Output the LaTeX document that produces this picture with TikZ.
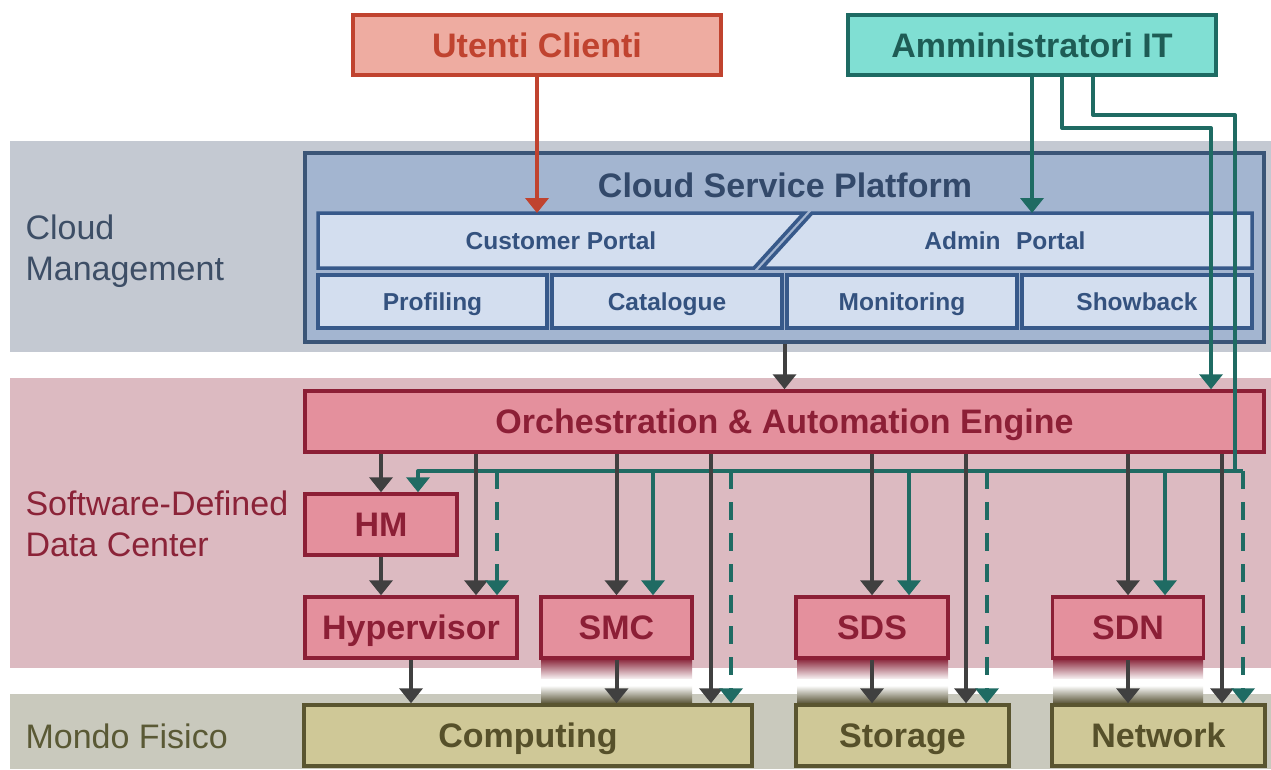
\documentclass[tikz,border=0pt]{standalone}
\usepackage{fontspec}
\setmainfont{Liberation Sans}
\usetikzlibrary{arrows.meta,calc}

\definecolor{cmBand}{HTML}{C4C9D2}
\definecolor{cmText}{HTML}{3D4E66}
\definecolor{sdBand}{HTML}{DCBAC1}
\definecolor{sdText}{HTML}{8B2338}
\definecolor{mfBand}{HTML}{C9C9BD}
\definecolor{mfText}{HTML}{5A5935}
\definecolor{uFill}{HTML}{EEACA1}
\definecolor{uLine}{HTML}{C0432F}
\definecolor{aFill}{HTML}{80DFD3}
\definecolor{aLine}{HTML}{1E6B63}
\definecolor{aText}{HTML}{1E5C55}
\definecolor{cspFill}{HTML}{A3B5D0}
\definecolor{cspLine}{HTML}{3B5577}
\definecolor{cspText}{HTML}{33496A}
\definecolor{pFill}{HTML}{D3DEEF}
\definecolor{pLine}{HTML}{37598A}
\definecolor{pText}{HTML}{34527F}
\definecolor{sdFill}{HTML}{E4909D}
\definecolor{sdLine}{HTML}{8C1F36}
\definecolor{hwFill}{HTML}{CFC897}
\definecolor{hwLine}{HTML}{5A5530}
\definecolor{hwText}{HTML}{56502A}
\definecolor{gArr}{HTML}{404040}
\definecolor{tArr}{HTML}{1F6B63}

\tikzset{
  bigfont/.style={font=\fontsize{34}{40}\selectfont\bfseries, text height=24pt, text depth=0pt},
  smallfont/.style={font=\fontsize{24.5}{28}\selectfont\bfseries, text height=17.5pt, text depth=0pt},
  bandlabel/.style={anchor=west, align=left, font=\fontsize{34}{41}\selectfont},
  boxbase/.style={draw, line width=3.5pt, inner sep=0pt},
  userbox/.style={boxbase, fill=uFill, draw=uLine, text=uLine, bigfont},
  adminbox/.style={boxbase, fill=aFill, draw=aLine, text=aText, bigfont},
  cspbox/.style={boxbase, fill=cspFill, draw=cspLine},
  portal/.style={fill=pFill, draw=pLine, line width=3.5pt, line join=miter},
  modbox/.style={boxbase, fill=pFill, draw=pLine, text=pText, smallfont,
    minimum width=230pt, minimum height=53pt},
  sdbox/.style={boxbase, fill=sdFill, draw=sdLine, text=sdLine, bigfont, minimum height=61pt},
  hwbox/.style={boxbase, fill=hwFill, draw=hwLine, text=hwText, bigfont, minimum height=61pt},
  tip/.style={-{Triangle[width=23pt,length=15pt]}},
  garrow/.style={draw=gArr, line width=4pt, tip},
  rarrow/.style={draw=uLine, line width=4pt, tip},
  tline/.style={draw=tArr, line width=4pt, line join=round},
  tarrow/.style={tline, tip},
  tdash/.style={tarrow, dash pattern=on 18pt off 13pt},
}

\begin{document}
\begin{tikzpicture}[x=1pt, y=-1pt]
\useasboundingbox (0,0) rectangle (1271,769);
\fill[white] (0,0) rectangle (1271,769);

% layer bands
\fill[cmBand] (10,141) rectangle (1271,352);
\fill[sdBand] (10,378) rectangle (1271,668);
\fill[mfBand] (10,694) rectangle (1271,769);

\node[bandlabel, text=cmText] (lcm) at (22,251) {Cloud\\Management};
\node[bandlabel, text=sdText] (lsd) at (22,524) {Software-Defined\\Data Center};
\node[bandlabel, text=mfText] (lmf) at (22,736) {Mondo Fisico};

% fading links between controllers and physical resources
\foreach \xa/\xb in {541/692, 797/948, 1053/1203} {
  \shade[top color=sdLine!95!black, bottom color=white] (\xa,658) rectangle (\xb,680);
  \shade[top color=white, bottom color=white] (\xa,679.5) rectangle (\xb,686);
  \shade[top color=white, bottom color=hwText!85!black] (\xa,685.5) rectangle (\xb,705);
}

% actors
\node[userbox, minimum width=368pt, minimum height=60pt] (ut) at (537,45) {Utenti Clienti};
\node[adminbox, minimum width=368pt, minimum height=60pt] (amm) at (1032,45) {Amministratori IT};

% cloud service platform
\node[cspbox, minimum width=959pt, minimum height=189pt] (csp) at (784.5,247.5) {};
\node[text=cspText, bigfont] (cspt) at (785,185) {Cloud Service Platform};
\draw[portal] (318,213) -- (804,213) -- (754,268) -- (318,268) -- cycle;
\draw[portal] (812,213) -- (1252,213) -- (1252,268) -- (762,268) -- cycle;
\node[text=pText, smallfont] (cport) at (561,241) {Customer Portal};
\node[text=pText, smallfont] (aport) at (1005,241) {Admin\hspace{0.35em} Portal};
\coordinate (cptop) at (537,213);
\coordinate (aptop) at (1032,213);

\node[modbox, minimum width=229pt] (prof) at (432.5,301.5) {Profiling};
\node[modbox] (cat) at (667,301.5) {Catalogue};
\node[modbox] (mon) at (902,301.5) {Monitoring};
\node[modbox] (show) at (1137,301.5) {Showback};

% software-defined data center
\node[sdbox, minimum width=959pt] (orch) at (784.5,421.5) {Orchestration \& Automation Engine};
\node[sdbox, minimum width=152pt] (hm) at (381,524.5) {HM};
\node[sdbox, minimum width=212pt] (hyp) at (411,627.5) {Hypervisor};
\node[sdbox, minimum width=151pt] (smc) at (616.5,627.5) {SMC};
\node[sdbox, minimum width=152pt] (sds) at (872,627.5) {SDS};
\node[sdbox, minimum width=151pt] (sdn) at (1128,627.5) {SDN};

% physical resources
\node[hwbox, minimum width=448pt] (comp) at (528,735.5) {Computing};
\node[hwbox, minimum width=213pt] (stor) at (902.5,735.5) {Storage};
\node[hwbox, minimum width=213pt] (net) at (1158.5,735.5) {Network};

% user access
\draw[rarrow] (ut.south) -- (cptop);

% administrator access
\draw[tarrow] (amm.south) -- (aptop);
\coordinate (t2a) at (1062,128);
\coordinate (t2b) at (1211,128);
\draw[tarrow] (amm.south -| t2a) -- (t2a) -- (t2b) -- (orch.north -| t2b);

\coordinate (t3a) at (1093,115);
\coordinate (t3b) at (1235,115);
\coordinate (t3c) at (1235,471);
\coordinate (busL) at (418,471);
\coordinate (busR) at (1243,471);
\draw[tarrow] (amm.south -| t3a) -- (t3a) -- (t3b) -- (t3c) -- (busL) -- (hm.north -| busL);
\draw[tline] (t3c) -- (busR);

% control flow from the engine
\draw[garrow] (csp.south) -- (orch.north);

\coordinate (g1) at (476,0);
\coordinate (g2) at (711,0);
\coordinate (g3) at (966,0);
\coordinate (g4) at (1222,0);
\draw[garrow] (orch.south -| hm.north) -- (hm.north);
\draw[garrow] (orch.south -| g1) -- (hyp.north -| g1);
\draw[garrow] (orch.south -| smc.north) -- (smc.north);
\draw[garrow] (orch.south -| g2) -- (comp.north -| g2);
\draw[garrow] (orch.south -| sds.north) -- (sds.north);
\draw[garrow] (orch.south -| g3) -- (stor.north -| g3);
\draw[garrow] (orch.south -| sdn.north) -- (sdn.north);
\draw[garrow] (orch.south -| g4) -- (net.north -| g4);

\draw[garrow] (hm.south) -- (hyp.north -| hm.south);
\draw[garrow] (hyp.south) -- (comp.north -| hyp.south);
\draw[garrow] (smc.south) -- (comp.north -| smc.south);
\draw[garrow] (sds.south) -- (stor.north -| sds.south);
\draw[garrow] (sdn.south) -- (net.north -| sdn.south);

% administrator branches from the bus
\coordinate (b1) at (497,471);
\coordinate (b2) at (653,471);
\coordinate (b3) at (731,471);
\coordinate (b4) at (909,471);
\coordinate (b5) at (987,471);
\coordinate (b6) at (1165,471);
\draw[tdash] (b1) -- (hyp.north -| b1);
\draw[tarrow] (b2) -- (smc.north -| b2);
\draw[tdash] (b3) -- (comp.north -| b3);
\draw[tarrow] (b4) -- (sds.north -| b4);
\draw[tdash] (b5) -- (stor.north -| b5);
\draw[tarrow] (b6) -- (sdn.north -| b6);
\draw[tdash] (busR) -- (net.north -| busR);
\end{tikzpicture}
\end{document}
